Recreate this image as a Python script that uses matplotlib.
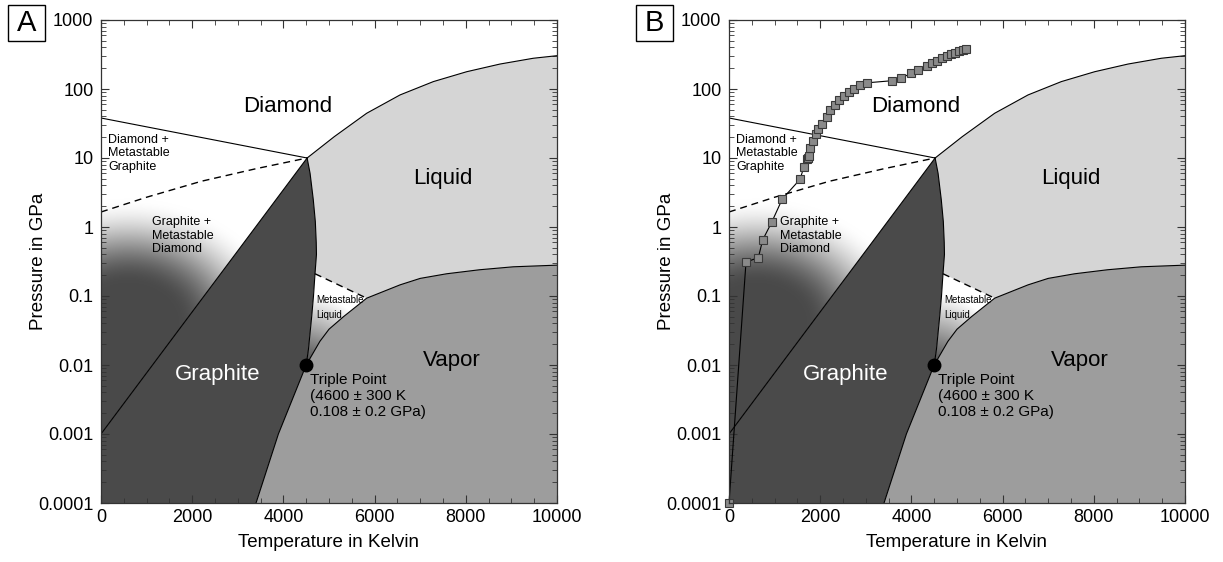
import numpy as np
import matplotlib
matplotlib.use("Agg")
import matplotlib.pyplot as plt
from matplotlib.patches import Polygon, Rectangle
from matplotlib.ticker import FixedLocator, FuncFormatter, NullFormatter

plt.rcParams['font.family'] = ['Liberation Sans', 'DejaVu Sans']

# phase boundaries of carbon, temperature in K, pressure in GPa
tp_low = (4500, 0.01)      # graphite / liquid / vapor
tp_high = (4520, 10)       # graphite / diamond / liquid

# graphite / diamond equilibrium line
gd_T = [0, 4520]
gd_P = [0.001, 10]

# diamond / metastable graphite boundary
dm_T = [0, 4520]
dm_P = [38, 10]

# dashed metastable extension
dash_T = [0, 1000, 2200, 3400, 4520]
dash_P = [1.65, 2.7, 4.6, 7.0, 10]

# graphite melting curve (top triple point down to bottom triple point)
melt_T = [4520, 4585, 4655, 4700, 4720, 4725, 4693, 4660, 4620, 4550, 4500]
melt_P = [10, 6, 2.5, 1.2, 0.6, 0.4, 0.21, 0.1, 0.05, 0.017, 0.01]

# diamond / liquid curve
ld_T = [4520, 5116, 5826, 6557, 7288, 8019, 8750, 9480, 10000]
ld_P = [10, 20.4, 44.5, 82, 128, 178, 230, 279, 304]

# liquid / vapor curve
vap_T = [4500, 4800, 5000, 5315, 5826, 6557, 7000, 7580, 8300, 9040, 10000]
vap_P = [0.01, 0.022, 0.033, 0.05, 0.093, 0.145, 0.18, 0.21, 0.24, 0.265, 0.28]

# graphite sublimation curve
sub_T = [4500, 3890, 3400]
sub_P = [0.01, 0.001, 0.0001]

# metastable liquid dashed line
mliq_T = [4693, 5826]
mliq_P = [0.21, 0.093]

# compression path shown in panel B
path_T = [0, 373, 643, 739, 936, 1169, 1557, 1645, 1700, 1726, 1754, 1776, 1835,
          1908, 1958, 2033, 2142, 2215, 2325, 2419, 2522, 2632, 2741, 2873, 3033,
          3582, 3772, 3991, 4152, 4335, 4445, 4568, 4678, 4774, 4862, 4956, 5044,
          5125, 5197]
path_P = [0.0001, 0.31, 0.36, 0.65, 1.17, 2.55, 4.9, 7.5, 9.6, 10.0, 10.7, 13.8, 17.6,
          22.3, 26, 31, 39, 50, 59, 69, 79, 90, 101, 114, 123,
          132, 143, 169, 188, 215, 236, 255, 279, 300, 321, 336, 352,
          367, 380]

x_ticks = [0, 2000, 4000, 6000, 8000, 10000]
y_ticks = [1e-4, 1e-3, 1e-2, 1e-1, 1, 10, 100, 1000]
y_labels = ['0.0001', '0.001', '0.01', '0.1', '1', '10', '100', '1000']
T_MAX = 10000
P_MIN, P_MAX = 1e-4, 1e3

C_GRAPHITE = '#4a4a4a'
C_LIQUID = '#d5d5d5'
C_VAPOR = '#9d9d9d'

AX_W, AX_H = 456, 483   # axes size in pixels


def pts(T, P):
    return list(zip(T, P))


def shade(ax, centre, r0, r1, sx, dark, clip_verts, smooth=True, flat_below=False):
    xs = np.arange(AX_W) + 0.5
    ys = np.arange(AX_H) + 0.5
    X, Y = np.meshgrid(xs, ys)
    cx = centre[0] / T_MAX * AX_W
    cy = (np.log10(centre[1]) + 4) / 7 * AX_H
    dy = Y - cy
    if flat_below:
        dy = np.maximum(dy, 0)
    d = np.hypot((X - cx) / sx, dy)
    t = np.clip((d - r0) / (r1 - r0), 0, 1)
    if smooth:
        t = t * t * (3 - 2 * t)
    g = dark + (1 - dark) * t
    img = np.dstack([g, g, g])
    im = ax.imshow(img, origin='lower', extent=(0, 1, 0, 1), transform=ax.transAxes,
                   aspect='auto', interpolation='bilinear', zorder=1.5)
    clip = Polygon(clip_verts, closed=True, transform=ax.transData)
    im.set_clip_path(clip)


def draw_panel(ax, letter, box_x, show_path):
    ax.set_yscale('log')

    # liquid field
    liquid = pts(ld_T, ld_P) + pts(vap_T[::-1], vap_P[::-1]) + pts(melt_T[::-1], melt_P[::-1])
    ax.add_patch(Polygon(liquid, closed=True, fc=C_LIQUID, ec='none', zorder=1))

    # vapor field
    vapor = pts(vap_T, vap_P) + [(T_MAX, P_MIN)] + pts(sub_T[::-1], sub_P[::-1])
    ax.add_patch(Polygon(vapor, closed=True, fc=C_VAPOR, ec='none', zorder=1))

    # graphite field
    graphite = [(0, P_MIN), (0, gd_P[0])] + pts(melt_T, melt_P) + pts(sub_T, sub_P)
    ax.add_patch(Polygon(graphite, closed=True, fc=C_GRAPHITE, ec='none', zorder=1))

    # graphite + metastable diamond shading
    shade(ax, (600, 0.04), 40, 125, 1.25, 0.29,
          [(0, gd_P[0]), (0, 10), tp_high], flat_below=True)

    # metastable liquid shading
    lo_melt = [(t, p) for t, p in zip(melt_T, melt_P) if p <= mliq_P[0]]
    lo_vap = [(t, p) for t, p in zip(vap_T, vap_P) if t <= mliq_T[1]]
    shade(ax, tp_low, 5, 70, 1.0, 0.32, lo_melt + lo_vap[1:], smooth=False)

    # boundary lines
    lk = dict(color='black', lw=0.8, zorder=3)
    ax.plot(gd_T, gd_P, **lk)
    ax.plot(dm_T, dm_P, **lk)
    ax.plot(melt_T, melt_P, **lk)
    ax.plot(ld_T, ld_P, **lk)
    ax.plot(vap_T, vap_P, **lk)
    ax.plot(sub_T, sub_P, **lk)
    ax.plot(dash_T, dash_P, color='black', lw=1.0, ls=(0, (5, 3.5)), zorder=3)
    ax.plot(mliq_T, mliq_P, color='black', lw=1.0, ls=(0, (5, 3.5)), zorder=3)

    ax.plot(*tp_low, 'o', color='black', ms=9, zorder=5, clip_on=False)

    if show_path:
        ax.plot(path_T, path_P, color='black', lw=0.8, marker='s', ms=6,
                mfc='#8a8a8a', mec='#3a3a3a', mew=0.8, zorder=6, clip_on=False)

    # labels
    ax.text(4100, 55, 'Diamond', fontsize=16, ha='center', va='center', zorder=5)
    ax.text(7500, 5.1, 'Liquid', fontsize=16, ha='center', va='center', zorder=5)
    ax.text(7690, 0.0117, 'Vapor', fontsize=16, ha='center', va='center', zorder=5)
    ax.text(2560, 0.0072, 'Graphite', fontsize=16, ha='center', va='center',
            color='white', zorder=5)
    ax.text(155, 11.7, 'Diamond +\nMetastable\nGraphite', fontsize=9,
            ha='left', va='center', linespacing=1.15, zorder=5)
    ax.text(1110, 0.75, 'Graphite +\nMetastable\nDiamond', fontsize=9,
            ha='left', va='center', linespacing=1.15, zorder=5)
    ax.text(4715, 0.068, 'Metastable\nLiquid', fontsize=7,
            ha='left', va='center', linespacing=1.55, zorder=5)
    ax.text(4583, 0.00356, 'Triple Point\n(4600 \u00b1 300 K\n0.108 \u00b1 0.2 GPa)',
            fontsize=11, ha='left', va='center', linespacing=1.22, zorder=5)

    # axes styling
    ax.set_xlim(0, T_MAX)
    ax.set_ylim(P_MIN, P_MAX)
    ax.xaxis.set_major_locator(FixedLocator(x_ticks))
    ax.xaxis.set_minor_locator(FixedLocator(np.arange(0, T_MAX + 1, 500)))
    ax.xaxis.set_major_formatter(FuncFormatter(lambda v, _: f'{v:.0f}'))
    ax.yaxis.set_major_locator(FixedLocator(y_ticks))
    minor_y = [m * 10.0 ** e for e in range(-4, 3) for m in range(2, 10)]
    ax.yaxis.set_minor_locator(FixedLocator(minor_y))
    ax.yaxis.set_minor_formatter(NullFormatter())
    ax.yaxis.set_major_formatter(FuncFormatter(lambda v, i: y_labels[i] if i is not None and i < len(y_labels) else ''))
    ax.tick_params(which='both', direction='in', top=True, right=True,
                   color='#333333', labelsize=13)
    ax.tick_params(axis='x', which='major', length=5.5, pad=4.5)
    ax.tick_params(axis='y', which='major', length=5.5, pad=5.4)
    ax.tick_params(which='minor', length=3.5)
    for sp in ax.spines.values():
        sp.set_color('#333333')
        sp.set_linewidth(0.9)
        sp.set_zorder(7)

    ax.set_xlabel('Temperature in Kelvin', fontsize=13.5)
    ax.set_ylabel('Pressure in GPa', fontsize=13.5)
    ax.xaxis.set_label_coords(0.5, -0.065)
    ax.yaxis.set_label_coords(-0.118, 0.5)

    # panel letter in a box
    fig = ax.figure
    fw, fh = fig.bbox.width, fig.bbox.height
    fig.add_artist(Rectangle((box_x / fw, 1 - 41 / fh), 37 / fw, 36 / fh,
                             transform=fig.transFigure, fill=False, ec='black', lw=1.0))
    fig.text((box_x + 18.5) / fw, 1 - 23 / fh, letter, fontsize=21,
             ha='center', va='center')


fig = plt.figure(figsize=(12.23, 5.62), dpi=100)
ax_a = fig.add_axes([101 / 1223, 1 - 503 / 562, 456 / 1223, 483 / 562])
ax_b = fig.add_axes([729 / 1223, 1 - 503 / 562, 456 / 1223, 483 / 562])

draw_panel(ax_a, 'A', 8, False)
draw_panel(ax_b, 'B', 636, True)

fig.savefig('out.png', dpi=100)
